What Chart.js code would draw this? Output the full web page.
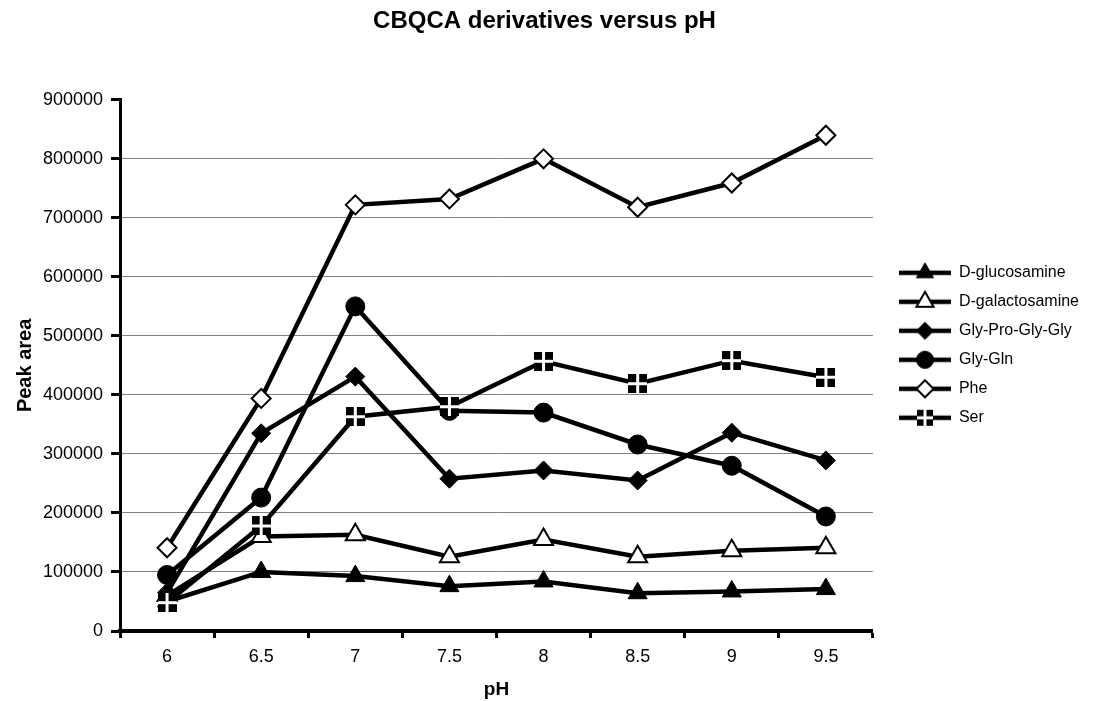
<!DOCTYPE html>
<html>
<head>
<meta charset="utf-8">
<script src="https://cdn.jsdelivr.net/npm/chart.js@4.4.1/dist/chart.umd.min.js"></script>
<style>
  html, body { margin: 0; padding: 0; background: #fff; }
  #wrap { width: 1106px; height: 701px; }
</style>
</head>
<body>
<div id="wrap"><canvas id="chart"></canvas></div>
<script>
// pH values on the x axis
const categories = ['6', '6.5', '7', '7.5', '8', '8.5', '9', '9.5'];

// peak areas
const glucosamine   = [50000, 100000, 93000, 76000, 84000, 64000, 67000, 71000];
const galactosamine = [60000, 160000, 163000, 126000, 155000, 126000, 136000, 141000];
const glyProGlyGly  = [65000, 335000, 431000, 258000, 272000, 255000, 336000, 289000];
const glyGln        = [95000, 226000, 550000, 373000, 370000, 316000, 280000, 194000];
const phe           = [141000, 394000, 722000, 732000, 800000, 718000, 759000, 840000];
const ser           = [48000, 178000, 363000, 380000, 457000, 419000, 458000, 430000];

const seriesNames = ['D-glucosamine', 'D-galactosamine', 'Gly-Pro-Gly-Gly', 'Gly-Gln', 'Phe', 'Ser'];
const yMax = 900000;
const yStep = 100000;

// Ser marker: black square cut by a white cross
function serMarker(size) {
    const c = document.createElement('canvas');
    c.width = size;
    c.height = size;
    const g = c.getContext('2d');
    g.fillStyle = '#000';
    g.fillRect(0, 0, size, size);
    g.fillStyle = '#fff';
    const m = size / 2;
    g.fillRect(m - 1.5, 0, 3, size);
    g.fillRect(0, m - 1.5, size, 3);
    return c;
}

const serImg = serMarker(19);
const serImgSmall = serMarker(16);

const markers = [
    { shape: 'triangle', radius: 11, fill: '#000', border: 1 },
    { shape: 'triangle', radius: 11, fill: '#fff', border: 2 },
    { shape: 'rectRot', radius: 9.5, fill: '#000', border: 1 },
    { shape: 'circle', radius: 9.5, fill: '#000', border: 1 },
    { shape: 'rectRot', radius: 9.5, fill: '#fff', border: 2 },
    { shape: serImg, radius: 9, fill: '#000', border: 0 }
];

// legend sample: a short line with the marker on it
function legendSample(m) {
    const c = document.createElement('canvas');
    c.width = 65;
    c.height = 24;
    const g = c.getContext('2d');
    g.strokeStyle = '#000';
    g.lineWidth = 4.5;
    g.beginPath();
    g.moveTo(13, 12);
    g.lineTo(65, 12);
    g.stroke();
    if (typeof m.shape !== 'string') {
        g.drawImage(serImgSmall, 39 - 8, 12 - 8);
    } else {
        g.fillStyle = m.fill;
        g.strokeStyle = '#000';
        g.lineWidth = m.border;
        Chart.helpers.drawPoint(g, {
            pointStyle: m.shape,
            radius: m.radius * 0.9,
            rotation: 0,
            borderWidth: m.border
        }, 39, 12);
    }
    return c;
}

const seriesData = [glucosamine, galactosamine, glyProGlyGly, glyGln, phe, ser];

const datasets = seriesData.map(function (values, i) {
    const m = markers[i];
    return {
        label: seriesNames[i],
        data: values,
        borderColor: '#000',
        borderWidth: 4.5,
        tension: 0,
        fill: false,
        pointStyle: m.shape,
        pointRadius: m.radius,
        pointBackgroundColor: m.fill,
        pointBorderColor: '#000',
        pointBorderWidth: m.border,
        order: seriesData.length - 1 - i
    };
});

const legendImgs = markers.map(legendSample);

const ctx = document.getElementById('chart').getContext('2d');

new Chart(ctx, {
    type: 'line',
    data: {
        labels: categories,
        datasets: datasets
    },
    options: {
        responsive: true,
        maintainAspectRatio: false,
        animation: false,
        font: { family: '"Liberation Sans", Arial, sans-serif' },
        layout: { padding: { left: 0, right: 17, top: 0, bottom: 0 } },
        plugins: {
            title: {
                display: true,
                text: 'CBQCA derivatives versus pH',
                color: '#000',
                font: { size: 24, weight: 'bold', family: '"Liberation Sans", Arial, sans-serif' },
                padding: { top: 7, bottom: 64 }
            },
            legend: {
                position: 'right',
                align: 'start',
                fullSize: false,
                title: {
                    display: true,
                    text: ' ',
                    font: { size: 12 },
                    padding: { top: 137.6, bottom: 0 }
                },
                labels: {
                    usePointStyle: true,
                    pointStyleWidth: 65,
                    padding: 13,
                    color: '#000',
                    font: { size: 16, family: '"Liberation Sans", Arial, sans-serif' },
                    generateLabels: function (chart) {
                        return chart.data.datasets.map(function (ds, i) {
                            return {
                                text: ds.label,
                                pointStyle: legendImgs[i],
                                datasetIndex: i,
                                fillStyle: '#000',
                                strokeStyle: '#000',
                                lineWidth: 0,
                                hidden: false,
                                fontColor: '#000'
                            };
                        });
                    }
                }
            },
            tooltip: { enabled: false }
        },
        scales: {
            x: {
                offset: true,
                grid: {
                    offset: true,
                    drawOnChartArea: false,
                    drawTicks: true,
                    tickLength: 7,
                    tickWidth: 3,
                    tickColor: '#000'
                },
                border: { color: '#000', width: 4 },
                ticks: {
                    color: '#000',
                    font: { size: 18, family: '"Liberation Sans", Arial, sans-serif' },
                    padding: 8,
                    maxRotation: 0,
                    autoSkip: false
                },
                title: {
                    display: true,
                    text: 'pH',
                    color: '#000',
                    font: { size: 19, weight: 'bold', family: '"Liberation Sans", Arial, sans-serif' },
                    padding: { top: 0, bottom: 0 }
                },
                afterFit: function (s) { s.height = 70; }
            },
            y: {
                min: 0,
                max: yMax,
                ticks: {
                    stepSize: yStep,
                    color: '#000',
                    font: { size: 18, family: '"Liberation Sans", Arial, sans-serif' },
                    padding: 8,
                    callback: function (v) { return String(v); }
                },
                grid: {
                    color: function (c) {
                        return c.tick && c.tick.value === yMax ? 'rgba(0,0,0,0)' : '#808080';
                    },
                    lineWidth: 1,
                    tickLength: 9,
                    tickWidth: 3,
                    tickColor: '#000'
                },
                border: { color: '#000', width: 3 },
                title: {
                    display: true,
                    text: 'Peak area',
                    color: '#000',
                    font: { size: 20, weight: 'bold', family: '"Liberation Sans", Arial, sans-serif' },
                    padding: { top: 13, bottom: 0 }
                },
                afterFit: function (s) { s.width = 120; }
            }
        }
    }
});
</script>
</body>
</html>
